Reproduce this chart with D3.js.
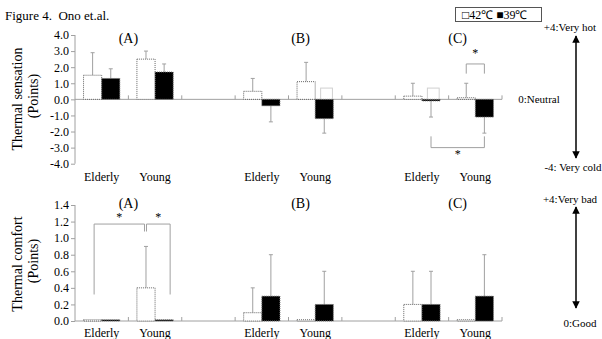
<!DOCTYPE html>
<html>
<head>
<meta charset="utf-8">
<script src="https://cdn.jsdelivr.net/npm/d3@7"></script>
<style>
  body { margin: 0; background: #fff; }
  svg text { font-family: "Liberation Serif", "Times New Roman", serif; fill: #000; white-space: pre; }
</style>
</head>
<body>
<div id="chart"></div>
<script>
// ---- data ----
var groups = ["A", "B", "C"];
var subjects = ["Elderly", "Young"];
var series = ["42℃", "39℃"];

// thermal sensation (order: A-Elderly, A-Young, B-Elderly, B-Young, C-Elderly, C-Young)
var sens42 = [1.5, 2.5, 0.5, 1.1, 0.2, 0.1];
var sens42sd = [1.4, 0.5, 0.8, 1.2, 0.8, 0.9];
var sens39 = [1.3, 1.7, -0.4, -1.2, -0.1, -1.1];
var sens39sd = [0.6, 0.5, 1.0, 0.9, 1.0, 1.0];
var sensGhost = [null, null, null, 0.7, 0.7, null];
var sensTicks = [4, 3, 2, 1, 0, -1, -2, -3, -4];

// thermal comfort
var comf42 = [0.015, 0.4, 0.1, 0.015, 0.2, 0.015];
var comf42sd = [0, 0.5, 0.3, 0, 0.4, 0];
var comf39 = [0.015, 0.015, 0.3, 0.2, 0.2, 0.3];
var comf39sd = [0, 0, 0.5, 0.4, 0.4, 0.5];
var comfTicks = [1.4, 1.2, 1.0, 0.8, 0.6, 0.4, 0.2, 0.0];

var W = 602, H = 339;
var svg = d3.select("#chart").append("svg")
    .attr("width", W).attr("height", H)
    .attr("font-family", "Liberation Serif, serif");

svg.append("text").attr("x", 5).attr("y", 20)
    .style("font-size", "13px")
    .text("Figure 4.  Ono et.al.");

// legend
svg.append("rect").attr("x", 455.5).attr("y", 7.5).attr("width", 86).attr("height", 14)
    .attr("fill", "none").attr("stroke", "#555");
svg.append("text").attr("x", 462).attr("y", 19).style("font-size", "12px")
    .text("□" + series[0] + " ■" + series[1]);

// shared x scale: 8 slots, every third one empty
var x = d3.scaleBand().domain(d3.range(8)).range([75, 502]);
function slot(i) { return Math.floor(i / 2) * 3 + (i % 2); }
var barW = x.bandwidth() * 0.34;

var grey = "#a0a0a0";

svg.append("defs").append("marker")
    .attr("id", "arr").attr("viewBox", "0 0 10 10")
    .attr("refX", 9).attr("refY", 5)
    .attr("markerWidth", 5).attr("markerHeight", 6)
    .attr("orient", "auto-start-reverse")
    .append("path").attr("d", "M0,0 L10,5 L0,10 z").attr("fill", "#000");

function barX(i, s) {
    var c = x(slot(i)) + x.bandwidth() / 2;
    return s === 0 ? c - barW : c;
}

function drawPanel(cfg) {
    var y = d3.scaleLinear().domain(cfg.domain).range(cfg.range);
    var g = svg.append("g");

    // y axis
    var yAxis = d3.axisLeft(y).tickValues(cfg.ticks).tickSize(4)
        .tickFormat(d3.format(".1f"));
    var ya = g.append("g").attr("transform", "translate(75,0)").call(yAxis)
        .attr("font-family", null).attr("font-size", null);
    ya.select(".domain").attr("stroke", grey).attr("d", "M0," + y(cfg.domain[1]) + "V" + y(cfg.domain[0]));
    ya.selectAll(".tick line").attr("stroke", grey);
    ya.selectAll("text").style("font-size", "12px").attr("x", -6)
        .text(function(d) { return d3.format(".1f")(d).replace("−", "-"); });

    // category baseline with ticks
    var y0 = y(0);
    g.append("line").attr("x1", 75).attr("x2", 502).attr("y1", y0).attr("y2", y0)
        .attr("stroke", grey);
    g.selectAll(".ctick").data(d3.range(1, 9)).enter().append("line")
        .attr("x1", function(d) { return x(0) + d * x.step(); })
        .attr("x2", function(d) { return x(0) + d * x.step(); })
        .attr("y1", y0).attr("y2", y0 - 4)
        .attr("stroke", grey);

    // ghost boxes
    if (cfg.ghost) {
        cfg.ghost.forEach(function(v, i) {
            if (v === null) return;
            g.append("rect")
                .attr("x", barX(i, 1) + barW * 0.3)
                .attr("width", barW * 0.65)
                .attr("y", y(v)).attr("height", y0 - y(v))
                .attr("fill", "#fff").attr("stroke", "#d0d0d0");
        });
    }

    [cfg.v42, cfg.v39].forEach(function(vals, s) {
        var sds = s === 0 ? cfg.sd42 : cfg.sd39;
        // error bars
        g.selectAll(".eb" + s).data(vals).enter().append("g").each(function(d, i) {
            if (!(sds[i] > 0)) return;
            var cx = barX(i, s) + barW / 2;
            var end = d + (d >= 0 ? sds[i] : -sds[i]);
            var e = d3.select(this);
            e.append("line").attr("x1", cx).attr("x2", cx)
                .attr("y1", y(d)).attr("y2", y(end)).attr("stroke", grey);
            e.append("line").attr("x1", cx - 2).attr("x2", cx + 2)
                .attr("y1", y(end)).attr("y2", y(end)).attr("stroke", grey);
        });
        // bars
        g.selectAll(".bar" + s).data(vals).enter().append("rect")
            .attr("x", function(d, i) { return barX(i, s); })
            .attr("width", barW)
            .attr("y", function(d) { return y(Math.max(0, d)); })
            .attr("height", function(d) { return Math.abs(y(d) - y0); })
            .attr("fill", s === 0 ? "#fff" : "#000")
            .attr("stroke", s === 0 ? "#666" : "#777")
            .attr("stroke-width", 1)
            .attr("stroke-dasharray", "1,1");
    });

    // panel labels
    groups.forEach(function(gr, k) {
        g.append("text")
            .attr("x", x(k * 3 + 1) + cfg.labelDx[k])
            .attr("y", cfg.labelY)
            .attr("text-anchor", "middle")
            .style("font-size", "14px")
            .text("(" + gr + ")");
    });

    // subject labels
    d3.range(6).forEach(function(i) {
        g.append("text")
            .attr("x", x(slot(i)) + x.bandwidth() / 2)
            .attr("y", cfg.catY)
            .attr("text-anchor", "middle")
            .style("font-size", "12px")
            .text(subjects[i % 2]);
    });

    // y title
    var yc = cfg.titleY;
    g.append("text").attr("transform", "translate(22," + yc + ") rotate(-90)")
        .attr("text-anchor", "middle").style("font-size", "14px").text(cfg.title);
    g.append("text").attr("transform", "translate(38," + (yc - 3) + ") rotate(-90)")
        .attr("text-anchor", "middle").style("font-size", "14px").text("(Points)");

    // significance brackets
    cfg.brackets.forEach(function(b) {
        var xa = barX(b.a[0], b.a[1]) + barW / 2 + (b.dxa || 0);
        var xb = barX(b.b[0], b.b[1]) + barW / 2 + (b.dxb || 0);
        var yh = y(b.h);
        var p = d3.path();
        p.moveTo(xa, y(b.la)); p.lineTo(xa, yh); p.lineTo(xb, yh); p.lineTo(xb, y(b.lb));
        g.append("path").attr("d", p.toString()).attr("fill", "none").attr("stroke", grey);
        g.append("text").attr("x", (xa + xb) / 2).attr("y", yh + b.sy)
            .attr("text-anchor", "middle").style("font-size", "12px").text("*");
    });

    // right side scale annotation
    g.append("text").attr("x", 570).attr("y", cfg.topNoteY).attr("text-anchor", "middle")
        .style("font-size", "11px").text(cfg.topNote);
    g.append("text").attr("x", cfg.botNoteX).attr("y", cfg.botNoteY).attr("text-anchor", "middle")
        .style("font-size", "11px").text(cfg.botNote);
    if (cfg.midNote) {
        g.append("text").attr("x", 539).attr("y", y0 + 4).attr("text-anchor", "middle")
            .style("font-size", "11px").text(cfg.midNote);
    }
    g.append("line").attr("x1", 576).attr("x2", 576)
        .attr("y1", cfg.arrow[0]).attr("y2", cfg.arrow[1])
        .attr("stroke", "#000").attr("stroke-width", 1.5)
        .attr("marker-start", "url(#arr)").attr("marker-end", "url(#arr)");
}

drawPanel({
    domain: [-4, 4], range: [163.7, 35],
    ticks: sensTicks,
    v42: sens42, sd42: sens42sd, v39: sens39, sd39: sens39sd,
    ghost: sensGhost,
    labelY: 43, labelDx: [0, 12, 9],
    catY: 181,
    title: "Thermal sensation", titleY: 99,
    brackets: [
        { a: [5, 0], b: [5, 1], h: 2.2, la: 1.6, lb: 1.6, sy: -7 },
        { a: [4, 1], b: [5, 1], h: -3.0, la: -2.3, lb: -2.3, sy: 10 }
    ],
    topNote: "+4:Very hot", topNoteY: 31,
    botNote: "-4: Very cold", botNoteX: 573, botNoteY: 171,
    midNote: "0:Neutral",
    arrow: [36, 158]
});

drawPanel({
    domain: [0, 1.4], range: [321, 205],
    ticks: comfTicks,
    v42: comf42, sd42: comf42sd, v39: comf39, sd39: comf39sd,
    ghost: null,
    labelY: 208, labelDx: [0, 12, 9],
    catY: 337,
    title: "Thermal comfort", titleY: 264,
    brackets: [
        { a: [0, 0], b: [1, 0], h: 1.17, la: 0.32, lb: 1.08, sy: -3, dxa: 1.5, dxb: -1.5 },
        { a: [1, 0], b: [1, 1], h: 1.17, la: 1.08, lb: 0.32, sy: -3, dxa: 0.5, dxb: 6 }
    ],
    topNote: "+4:Very bad", topNoteY: 203,
    botNote: "0:Good", botNoteX: 580, botNoteY: 327,
    midNote: null,
    arrow: [207, 308]
});
</script>
</body>
</html>
